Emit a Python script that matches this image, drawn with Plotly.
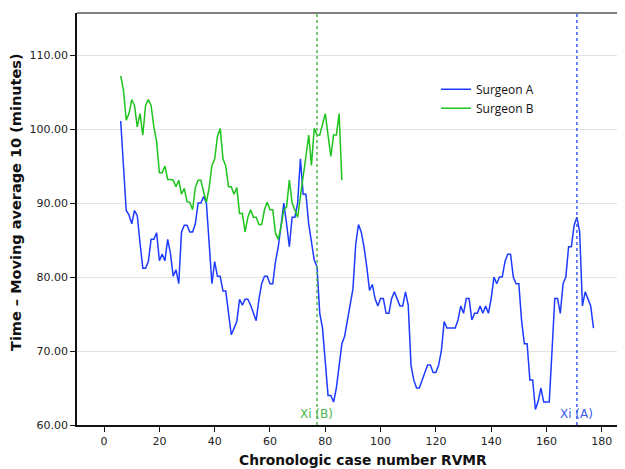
import plotly.graph_objects as go

# ---- data ----
cases_a = list(range(6, 178))
surgeon_a = [
    101.1, 95.0, 89.0, 88.4, 87.2, 89.0, 88.3, 84.6, 81.2, 81.2,
    82.1, 85.1, 85.1, 86.0, 82.2, 83.1, 82.2, 85.1, 83.2, 80.1,
    81.0, 79.1, 86.1, 87.0, 87.0, 86.1, 86.1, 87.2, 90.0, 90.0,
    90.9, 90.0, 85.0, 79.1, 82.1, 80.1, 80.1, 78.1, 78.1, 75.1,
    72.2, 73.1, 74.0, 77.0, 76.2, 77.0, 77.0, 76.2, 75.1, 74.1,
    77.0, 79.1, 80.1, 80.1, 79.1, 79.1, 82.1, 84.1, 87.0, 90.0,
    87.2, 84.1, 88.1, 88.1, 90.0, 96.0, 91.2, 91.2, 87.2, 84.6,
    82.3, 81.4, 75.1, 73.1, 68.8, 64.0, 64.0, 63.1, 65.0, 67.9,
    71.0, 72.0, 74.3, 76.0, 78.4, 84.4, 87.1, 86.1, 84.1, 81.4,
    78.2, 79.0, 77.1, 76.1, 77.1, 77.1, 75.1, 75.1, 77.1, 78.0,
    77.1, 76.1, 76.1, 78.0, 76.2, 68.1, 66.1, 65.0, 65.0, 66.1,
    67.1, 68.1, 68.1, 67.1, 67.1, 68.1, 70.1, 74.0, 73.1, 73.1,
    73.1, 73.1, 74.2, 76.1, 75.1, 77.1, 77.1, 74.2, 75.1, 75.1,
    76.1, 75.1, 76.1, 75.1, 77.1, 80.0, 79.1, 80.0, 80.0, 82.1,
    83.1, 83.1, 80.0, 79.1, 79.1, 74.1, 71.0, 71.0, 66.1, 66.1,
    62.1, 63.2, 65.0, 63.1, 63.1, 63.1, 70.0, 77.1, 77.1, 75.1,
    79.1, 80.0, 84.1, 84.1, 87.0, 88.1, 86.1, 76.1, 78.0, 77.1,
    76.1, 73.1,
]
cases_b = list(range(6, 87))
surgeon_b = [
    107.2, 105.3, 101.2, 102.1, 104.0, 103.2, 100.3, 102.1, 99.2, 103.2,
    104.0, 103.2, 100.3, 98.3, 94.1, 94.1, 95.0, 93.2, 93.2, 93.1,
    92.2, 93.1, 91.2, 92.0, 90.2, 90.1, 89.1, 92.1, 93.1, 93.1,
    91.5, 90.1, 92.1, 95.1, 96.0, 99.0, 100.1, 96.0, 95.0, 92.2,
    92.2, 91.2, 92.1, 88.6, 88.6, 86.1, 88.1, 89.1, 88.1, 88.1,
    87.1, 87.1, 89.1, 90.1, 89.1, 89.1, 85.9, 85.1, 86.8, 89.1,
    89.5, 93.1, 90.0, 89.1, 88.1, 90.9, 94.0, 96.3, 99.2, 95.1,
    100.1, 99.2, 99.2, 100.5, 102.1, 99.2, 96.3, 99.2, 99.2, 102.1,
    93.1,
]
xi_b = 77
xi_a = 171
y_ticks = [60, 70, 80, 90, 100, 110]
x_ticks = [0, 20, 40, 60, 80, 100, 120, 140, 160, 180]

BLUE = "#1e3cff"
GREEN = "#1ec31e"
XI_GREEN = "#4cb84c"
XI_BLUE = "#3c5cf0"

# page body has an 8px margin; figure sized so the plot lands where the reference has it
W, H = 617, 461
ML, MR, MT, MB = 69, 0, 5, 44
PW = W - ML - MR
PH = H - MT - MB

fig = go.Figure()
fig.add_trace(go.Scatter(x=cases_a, y=surgeon_a, mode="lines", name="Surgeon A",
                         line=dict(color=BLUE, width=1.5)))
fig.add_trace(go.Scatter(x=cases_b, y=surgeon_b, mode="lines", name="Surgeon B",
                         line=dict(color=GREEN, width=1.5)))

# reference lines
fig.add_shape(type="line", xref="x", yref="paper", x0=xi_b, x1=xi_b, y0=0, y1=1,
              line=dict(color=XI_GREEN, width=1.5, dash="dot"))
fig.add_shape(type="line", xref="x", yref="paper", x0=xi_a, x1=xi_a, y0=0, y1=1,
              line=dict(color=XI_BLUE, width=1.5, dash="dot"))
fig.add_annotation(x=xi_b, y=61.5, xref="x", yref="y", text="Xi (B)", showarrow=False,
                   font=dict(family="DejaVu Sans", size=12, color=XI_GREEN))
fig.add_annotation(x=xi_a, y=61.5, xref="x", yref="y", text="Xi (A)", showarrow=False,
                   font=dict(family="DejaVu Sans", size=12, color=XI_BLUE))
# top frame line
fig.add_shape(type="line", xref="paper", yref="paper", x0=0, x1=1, y0=1, y1=1,
              line=dict(color="#555555", width=1.5))

# axis titles
fig.add_annotation(x=(8 - ML) / PW, y=(PH + MT - 194) / PH, xref="paper", yref="paper",
                   text="<b>Time – Moving average 10 (minutes)</b>", textangle=-90,
                   showarrow=False, xanchor="center", yanchor="middle",
                   font=dict(family="DejaVu Sans", size=14.5, color="#111111"))
fig.add_annotation(x=(355 - ML) / PW, y=(PH + MT - 452) / PH, xref="paper", yref="paper",
                   text="<b>Chronologic case number RVMR</b>",
                   showarrow=False, xanchor="center", yanchor="middle",
                   font=dict(family="DejaVu Sans", size=13.8, color="#111111"))

fig.update_layout(
    width=W, height=H,
    margin=dict(l=ML, r=MR, t=MT, b=MB, autoexpand=False),
    paper_bgcolor="white", plot_bgcolor="white",
    showlegend=True,
    legend=dict(x=(428 - ML) / PW, y=0.85, xanchor="left", yanchor="top",
                bgcolor="rgba(0,0,0,0)", font=dict(family="Open Sans", size=12, color="#111111"),
                tracegroupgap=0, itemwidth=30),
    font=dict(family="DejaVu Sans", size=11, color="#222222"),
)
fig.update_xaxes(
    range=[-9.8, 188.4], tickvals=x_ticks, ticks="outside", ticklen=5, tickcolor="#111111",
    showline=True, linecolor="#111111", linewidth=1.5, showgrid=False, zeroline=False,
    tickfont=dict(family="DejaVu Sans", size=11, color="#222222"),
    automargin=False,
)
fig.update_yaxes(
    range=[60, 115.7], tickvals=y_ticks, tickformat=".2f", ticks="outside", ticklen=5,
    tickcolor="#111111", showline=True, linecolor="#111111", linewidth=1.5,
    showgrid=True, gridcolor="#e3e3e3", gridwidth=1, zeroline=False,
    tickfont=dict(family="DejaVu Sans", size=11, color="#222222"),
    automargin=False,
)

fig.write_html("out.html")
